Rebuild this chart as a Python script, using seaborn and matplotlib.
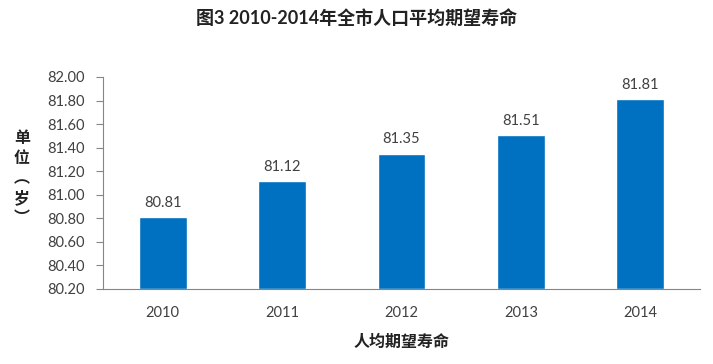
import matplotlib
matplotlib.use("Agg")
import matplotlib.pyplot as plt
import seaborn as sns
import numpy as np
import pandas as pd

years = ["2010", "2011", "2012", "2013", "2014"]
life_exp = [80.81, 81.12, 81.35, 81.51, 81.81]
y_ticks = [80.20, 80.40, 80.60, 80.80, 81.00, 81.20, 81.40, 81.60, 81.80, 82.00]

sns.set_style("white")
plt.rcParams['font.family'] = ['Lato', 'Noto Sans CJK SC', 'DejaVu Sans']

df = pd.DataFrame({"year": years, "value": life_exp})

fig = plt.figure(figsize=(7.13, 3.64), dpi=100)
ax = fig.add_axes([103 / 713, 1 - 289 / 364, (700 - 103) / 713, (289 - 77) / 364])

sns.barplot(data=df, x="year", y="value", color="#0070C0", width=0.4,
            saturation=1, ax=ax)
# bars start at axis floor
for p, v in zip(ax.patches, life_exp):
    p.set_y(80.20)
    p.set_height(v - 80.20)
    ax.text(p.get_x() + p.get_width() / 2, v + 0.06, f"{v:.2f}",
            ha="center", va="bottom", fontsize=10.5, color="#404040")

ax.set_ylim(80.20, 82.00)
ax.set_xlim(-0.5, 4.5)
ax.set_yticks(y_ticks)
ax.set_yticklabels([f"{t:.2f}" for t in y_ticks])
ax.set_xticks(np.arange(-0.5, 5, 1), minor=True)
ax.tick_params(axis="x", which="major", length=0, pad=12, labelsize=10.5, labelcolor="#404040")
ax.tick_params(axis="x", which="minor", length=5, color="#868686", direction="out")
ax.tick_params(axis="y", length=5, color="#868686", direction="out", labelsize=10.5,
               labelcolor="#404040", pad=8, left=True)

for side in ["top", "right"]:
    ax.spines[side].set_visible(False)
for side in ["left", "bottom"]:
    ax.spines[side].set_color("#868686")
    ax.spines[side].set_linewidth(0.8)

ax.set_xlabel("人均期望寿命", fontsize=11.5, fontweight="bold", color="#222222", labelpad=11)
ax.set_ylabel("")
fig.text(22 / 713, 1 - 178 / 364, "单\n位\n︵\n岁\n︶", ha="center", va="center",
         fontsize=11.5, fontweight="bold", color="#222222", linespacing=1.3,
         family=['Noto Sans CJK SC', 'DejaVu Sans'])
fig.text(357 / 713, 1 - 18 / 364, "图3 2010-2014年全市人口平均期望寿命", ha="center", va="center",
         fontsize=13, fontweight="bold", color="#222222")

fig.savefig("out.png", dpi=100)
